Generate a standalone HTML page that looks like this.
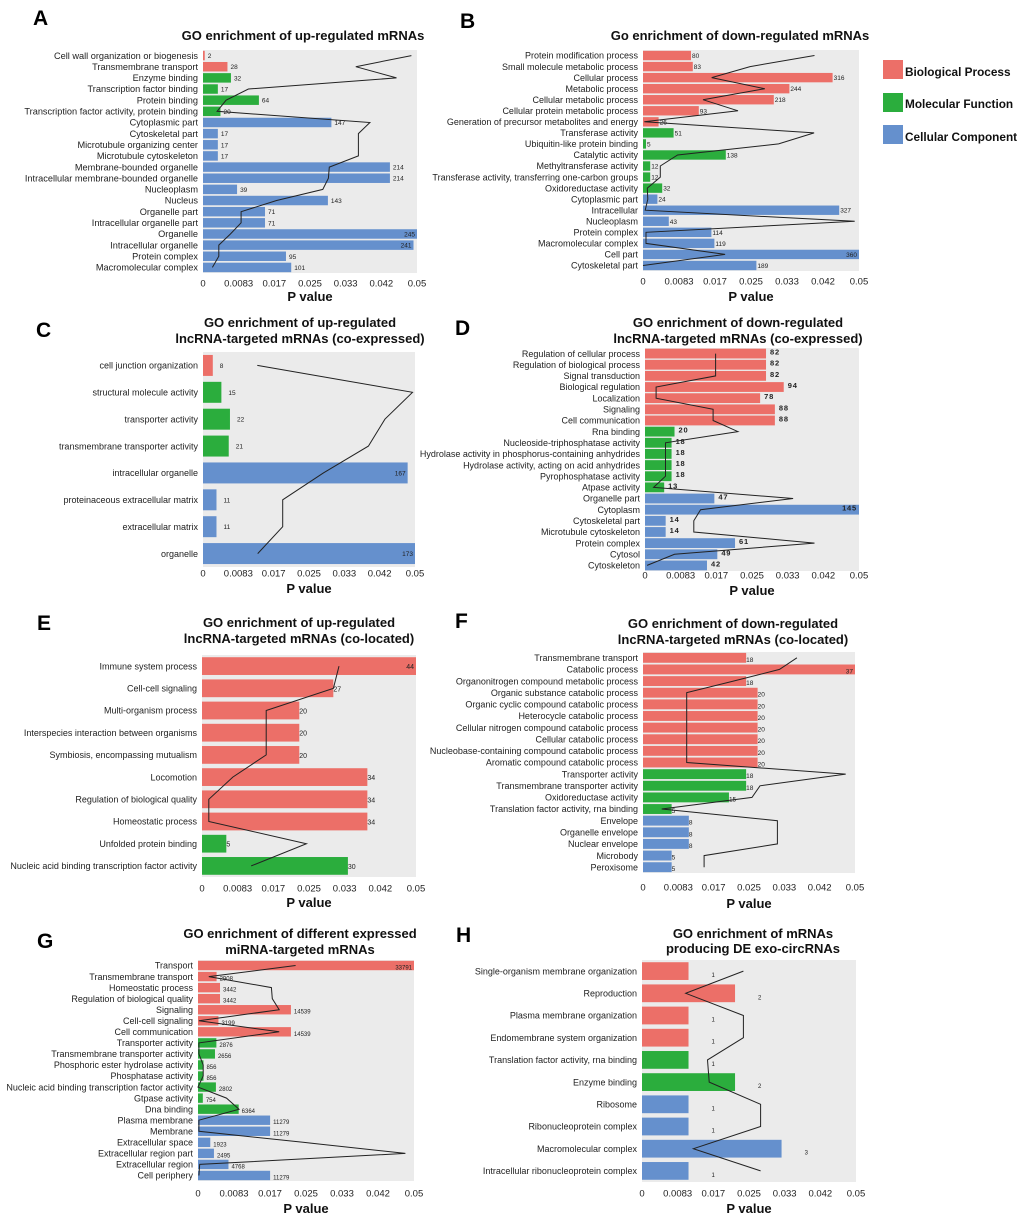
<!DOCTYPE html>
<html><head><meta charset="utf-8"><title>GO enrichment panels</title>
<style>
html,body{margin:0;padding:0;background:#fff;}
svg{display:block;font-family:"Liberation Sans",Arial,sans-serif;}
</style></head>
<body>
<svg id="fig" width="1020" height="1218" viewBox="0 0 1020 1218" xmlns="http://www.w3.org/2000/svg">
  <g>
    <rect x="883" y="60" width="20" height="19" fill="#ec6f68"/>
    <text x="905" y="76" font-size="11.8" font-weight="bold" fill="#111">Biological Process</text>
    <rect x="883" y="93" width="20" height="19" fill="#2bad3d"/>
    <text x="905" y="108" font-size="11.8" font-weight="bold" fill="#111">Molecular Function</text>
    <rect x="883" y="125" width="20" height="19" fill="#6590cd"/>
    <text x="905" y="141" font-size="11.8" font-weight="bold" fill="#111">Cellular Component</text>
  </g>
</svg>
<script>
const tickLabels = ['0','0.0083','0.017','0.025','0.033','0.042','0.05'];
const tickValues = [0,0.008333,0.016667,0.025,0.033333,0.041667,0.05];

const aCats = ['Cell wall organization or biogenesis','Transmembrane transport','Enzyme binding','Transcription factor binding','Protein binding','Transcription factor activity, protein binding','Cytoplasmic part','Cytoskeletal part','Microtubule organizing center','Microtubule cytoskeleton','Membrane-bounded organelle','Intracellular membrane-bounded organelle','Nucleoplasm','Nucleus','Organelle part','Intracellular organelle part','Organelle','Intracellular organelle','Protein complex','Macromolecular complex'];
const aCounts = [2,28,32,17,64,20,147,17,17,17,214,214,39,143,71,71,245,241,95,101];
const aGroups = ['BP','BP','MF','MF','MF','MF','CC','CC','CC','CC','CC','CC','CC','CC','CC','CC','CC','CC','CC','CC'];
const aPvals = [0.0487,0.0357,0.0452,0.0106,0.0054,0.0033,0.039,0.0363,0.0363,0.0363,0.0295,0.0293,0.028,0.0172,0.0089,0.0089,0.0064,0.0037,0.0037,0.0022];

const bCats = ['Protein modification process','Small molecule metabolic process','Cellular process','Metabolic process','Cellular metabolic process','Cellular protein metabolic process','Generation of precursor metabolites and energy','Transferase activity','Ubiquitin-like protein binding','Catalytic activity','Methyltransferase activity','Transferase activity, transferring one-carbon groups','Oxidoreductase activity','Cytoplasmic part','Intracellular','Nucleoplasm','Protein complex','Macromolecular complex','Cell part','Cytoskeletal part'];
const bCounts = [80,83,316,244,218,93,26,51,5,138,12,12,32,24,327,43,114,119,360,189];
const bGroups = ['BP','BP','BP','BP','BP','BP','BP','MF','MF','MF','MF','MF','MF','CC','CC','CC','CC','CC','CC','CC'];
const bPvals = [0.0397,0.0248,0.0159,0.0282,0.0139,0.022,0.0003,0.0396,0.0314,0.008,0.004,0.004,0.001,0.0011,0.0005,0.049,0.0007,0.0007,0.019,0.0];

const cCats = ['cell junction organization','structural molecule activity','transporter activity','transmembrane transporter activity','intracellular organelle','proteinaceous extracellular matrix','extracellular matrix','organelle'];
const cCounts = [8,15,22,21,167,11,11,173];
const cGroups = ['BP','MF','MF','MF','CC','CC','CC','CC'];
const cPvals = [0.0128,0.0494,0.0429,0.039,0.0284,0.0188,0.0188,0.0129];

const dCats = ['Regulation of cellular process','Regulation of biological process','Signal transduction','Biological regulation','Localization','Signaling','Cell communication','Rna binding','Nucleoside-triphosphatase activity','Hydrolase activity in phosphorus-containing anhydrides','Hydrolase activity, acting on acid anhydrides','Pyrophosphatase activity','Atpase activity','Organelle part','Cytoplasm','Cytoskeletal part','Microtubule cytoskeleton','Protein complex','Cytosol','Cytoskeleton'];
const dCounts = [82,82,82,94,78,88,88,20,18,18,18,18,13,47,145,14,14,61,49,42];
const dGroups = ['BP','BP','BP','BP','BP','BP','BP','MF','MF','MF','MF','MF','MF','CC','CC','CC','CC','CC','CC','CC'];
const dPvals = [0.0165,0.0165,0.0165,0.0026,0.0026,0.0159,0.0159,0.0217,0.0048,0.0048,0.0048,0.0048,0.002,0.0346,0.013,0.0114,0.0114,0.0396,0.0069,0.0005];

const eCats = ['Immune system process','Cell-cell signaling','Multi-organism process','Interspecies interaction between organisms','Symbiosis, encompassing mutualism','Locomotion','Regulation of biological quality','Homeostatic process','Unfolded protein binding','Nucleic acid binding transcription factor activity'];
const eCounts = [44,27,20,20,20,34,34,34,5,30];
const eGroups = ['BP','BP','BP','BP','BP','BP','BP','BP','MF','MF'];
const ePvals = [0.032,0.0307,0.015,0.015,0.015,0.0072,0.0016,0.0016,0.0244,0.0115];

const fCats = ['Transmembrane transport','Catabolic process','Organonitrogen compound metabolic process','Organic substance catabolic process','Organic cyclic compound catabolic process','Heterocycle catabolic process','Cellular nitrogen compound catabolic process','Cellular catabolic process','Nucleobase-containing compound catabolic process','Aromatic compound catabolic process','Transporter activity','Transmembrane transporter activity','Oxidoreductase activity','Translation factor activity, rna binding','Envelope','Organelle envelope','Nuclear envelope','Microbody','Peroxisome'];
const fCounts = [18,37,18,20,20,20,20,20,20,20,18,18,15,5,8,8,8,5,5];
const fGroups = ['BP','BP','BP','BP','BP','BP','BP','BP','BP','BP','MF','MF','MF','MF','CC','CC','CC','CC','CC'];
const fPvals = [0.0363,0.0322,0.0213,0.0103,0.0103,0.0103,0.0103,0.0103,0.0103,0.0103,0.0478,0.0276,0.0257,0.0044,0.0317,0.0317,0.0317,0.0144,0.0144];

const gCats = ['Transport','Transmembrane transport','Homeostatic process','Regulation of biological quality','Signaling','Cell-cell signaling','Cell communication','Transporter activity','Transmembrane transporter activity','Phosphoric ester hydrolase activity','Phosphatase activity','Nucleic acid binding transcription factor activity','Gtpase activity','Dna binding','Plasma membrane','Membrane','Extracellular space','Extracellular region part','Extracellular region','Cell periphery'];
const gCounts = [33791,2908,3442,3442,14539,3199,14539,2876,2656,856,856,2802,754,6364,11279,11279,1923,2495,4768,11279];
const gGroups = ['BP','BP','BP','BP','BP','BP','BP','MF','MF','MF','MF','MF','MF','MF','CC','CC','CC','CC','CC','CC'];
const gPvals = [0.0226,0.0025,0.017,0.0172,0.0188,0.0002,0.0188,0.0002,0.0002,0.0012,0.0012,0.0,0.0066,0.0095,0.0002,0.0002,0.0243,0.048,0.0004,0.0002];

const hCats = ['Single-organism membrane organization','Reproduction','Plasma membrane organization','Endomembrane system organization','Translation factor activity, rna binding','Enzyme binding','Ribosome','Ribonucleoprotein complex','Macromolecular complex','Intracellular ribonucleoprotein complex'];
const hCounts = [1,2,1,1,1,2,1,1,3,1];
const hGroups = ['BP','BP','BP','BP','MF','MF','CC','CC','CC','CC'];
const hPvals = [0.0237,0.0102,0.0237,0.0237,0.0153,0.0157,0.0277,0.0277,0.012,0.0277];

const NS = 'http://www.w3.org/2000/svg';
const svg = document.getElementById('fig');
const COLORS = {BP:'#ec6f68', MF:'#2bad3d', CC:'#6590cd'};

function mk(tag, parent, attrs){
  const el = document.createElementNS(NS, tag);
  for (const k in attrs) el.setAttribute(k, attrs[k]);
  parent.appendChild(el);
  return el;
}

function drawPanel(cfg, cats, counts, groups, pvals){
  const g = mk('g', svg, {});
  
  
  const xP = v => cfg.x0 + v / 0.05 * (cfg.x1 - cfg.x0);
  const xC = c => cfg.x0 + c / cfg.countMax * (cfg.x1 - cfg.x0);
  const n = cats.length;
  const band = (cfg.y1 - cfg.y0) / n;
  const yC = i => cfg.y0 + band * (i + 0.5);

  const letter = mk('text', g, {x: cfg.lx, y: cfg.ly, 'font-size': 21, 'font-weight': 'bold', fill: '#000'});
  
  
  letter.textContent = cfg.id.toUpperCase();

  cfg.title.forEach((t, k) => {
    const tt = mk('text', g, {x: cfg.tx, y: cfg.ty[k], 'font-size': 13, 'font-weight': 'bold', 'text-anchor': 'middle', fill: '#111'});
    
    
    tt.textContent = t;
  });

  const bg = mk('rect', g, {x: cfg.x0, y: cfg.y0, width: cfg.x1 - cfg.x0, height: cfg.y1 - cfg.y0, fill: '#ebebeb'});
  
  

  const bh = band * (1 - cfg.pad);
  for (let i = 0; i < n; i++){
    const xe = xC(counts[i]);
    const r = mk('rect', g, {x: cfg.x0, y: yC(i) - bh / 2, width: Math.max(0, xe - cfg.x0), height: bh, fill: COLORS[groups[i]]});
    
    

    const lab = mk('text', g, {x: cfg.x0 - 5, y: yC(i) + 3.2, 'font-size': cfg.catFont, 'text-anchor': 'end', fill: '#222'});
    
    
    lab.textContent = cats[i];

    const txt = String(counts[i]);
    const w = txt.length * cfg.valFont * 0.58;
    let vx = xe + cfg.valOff, anchor = 'start';
    if (vx + w > cfg.x1){ vx = xe - 2; anchor = 'end'; }
    const vl = mk('text', g, {x: vx, y: yC(i) + cfg.valDy, 'font-size': cfg.valFont, 'text-anchor': anchor, fill: '#222', 'font-weight': cfg.valBold ? 'bold' : 'normal', 'letter-spacing': cfg.valLs || 0});
    
    
    vl.textContent = txt;
  }

  const pts = pvals.map((p, i) => xP(p).toFixed(1) + ',' + yC(i).toFixed(1)).join(' ');
  const pl = mk('polyline', g, {points: pts, fill: 'none', stroke: '#222', 'stroke-width': 1});
  
  

  tickValues.forEach((v, k) => {
    const t = mk('text', g, {x: xP(v), y: cfg.tickY + 3.5, 'font-size': 9.5, 'text-anchor': 'middle', fill: '#222'});
    
    
    t.textContent = tickLabels[k];
  });
  const xt = mk('text', g, {x: (cfg.x0 + cfg.x1) / 2, y: cfg.pY + 5, 'font-size': 13, 'font-weight': 'bold', 'text-anchor': 'middle', fill: '#111'});
  
  
  xt.textContent = 'P value';
}

drawPanel({id:'a', x0:203, x1:417, y0:50, y1:273, countMax:245, pad:0.15, catFont:9.2, valFont:6.5, valOff:3, valDy:2.5, lx:33, ly:25, tx:303, ty:[40], title:['GO enrichment of up-regulated mRNAs'], tickY:283, pY:296}, aCats, aCounts, aGroups, aPvals);
drawPanel({id:'b', x0:643, x1:859, y0:50, y1:271, countMax:360, pad:0.15, catFont:9, valFont:6.5, valOff:1, valDy:2.5, lx:460, ly:28, tx:740, ty:[40], title:['Go enrichment of down-regulated mRNAs'], tickY:281, pY:296}, bCats, bCounts, bGroups, bPvals);
drawPanel({id:'c', x0:203, x1:415, y0:352, y1:567, countMax:173, pad:0.22, catFont:9, valFont:6.5, valOff:7, valDy:2.5, lx:36, ly:337, tx:300, ty:[327,343], title:['GO enrichment of up-regulated','lncRNA-targeted mRNAs (co-expressed)'], tickY:573, pY:588}, cCats, cCounts, cGroups, cPvals);
drawPanel({id:'d', x0:645, x1:859, y0:348, y1:571, countMax:145, pad:0.12, catFont:9, valFont:7.5, valOff:4, valDy:1, valBold:true, valLs:0.8, lx:455, ly:335, tx:738, ty:[327,343], title:['GO enrichment of down-regulated','lncRNA-targeted mRNAs (co-expressed)'], tickY:575, pY:590}, dCats, dCounts, dGroups, dPvals);
drawPanel({id:'e', x0:202, x1:416, y0:655, y1:877, countMax:44, pad:0.2, catFont:9, valFont:7, valOff:0, valDy:3, lx:37, ly:630, tx:299, ty:[627,643], title:['GO enrichment of up-regulated','lncRNA-targeted mRNAs (co-located)'], tickY:888, pY:902}, eCats, eCounts, eGroups, ePvals);
drawPanel({id:'f', x0:643, x1:855, y0:652, y1:873, countMax:37, pad:0.15, catFont:9, valFont:6.5, valOff:0, valDy:4, lx:455, ly:628, tx:733, ty:[628,644], title:['GO enrichment of down-regulated','lncRNA-targeted mRNAs (co-located)'], tickY:887, pY:903}, fCats, fCounts, fGroups, fPvals);
drawPanel({id:'g', x0:198, x1:414, y0:960, y1:1181, countMax:33791, pad:0.15, catFont:9, valFont:6, valOff:3, valDy:4, lx:37, ly:948, tx:300, ty:[938,954], title:['GO enrichment of different expressed','miRNA-targeted mRNAs'], tickY:1193, pY:1208}, gCats, gCounts, gGroups, gPvals);
drawPanel({id:'h', x0:642, x1:856, y0:960, y1:1182, countMax:4.6, pad:0.2, catFont:9, valFont:6, valOff:23, valDy:6, lx:456, ly:942, tx:753, ty:[938,953], title:['GO enrichment of mRNAs','producing DE exo-circRNAs'], tickY:1193, pY:1208}, hCats, hCounts, hGroups, hPvals);
</script>
</body></html>
